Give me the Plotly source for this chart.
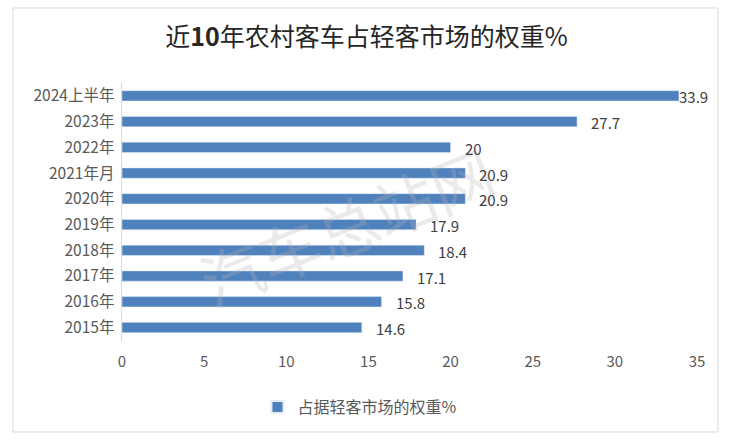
import plotly.graph_objects as go

categories = ["2024上半年", "2023年", "2022年", "2021年月", "2020年", "2019年", "2018年", "2017年", "2016年", "2015年"]
values = [33.9, 27.7, 20, 20.9, 20.9, 17.9, 18.4, 17.1, 15.8, 14.6]
value_labels = ["33.9", "27.7", "20", "20.9", "20.9", "17.9", "18.4", "17.1", "15.8", "14.6"]
series_name = "占据轻客市场的权重%"
x_ticks = [0, 5, 10, 15, 20, 25, 30, 35]

font_family = "Noto Sans CJK SC, Noto Sans, sans-serif"
x_max = 35

fig = go.Figure()
fig.add_trace(go.Bar(
    y=categories,
    x=values,
    orientation="h",
    name=series_name,
    marker=dict(color="#4F81BD"),
    width=0.4,
    showlegend=True,
))

label_annotations = []
for cat, v, lab in zip(categories, values, value_labels):
    if v > 0.95 * x_max:
        # Excel pulls labels that would overflow back inside the plot edge
        label_annotations.append(dict(
            x=x_max, y=cat, xref="x", yref="y", text=lab, showarrow=False,
            xanchor="right", xshift=13, yshift=-1,
            font=dict(size=15, color="#404040", family=font_family)))
    else:
        label_annotations.append(dict(
            x=v, y=cat, xref="x", yref="y", text=lab, showarrow=False,
            xanchor="left", xshift=12, yshift=-1,
            font=dict(size=15, color="#404040", family=font_family)))

fig.update_layout(
    width=733,
    height=441,
    margin=dict(l=122, r=36, t=83, b=100, autoexpand=False),
    paper_bgcolor="white",
    plot_bgcolor="white",
    font=dict(family=font_family, color="#595959", size=15),
    title=dict(
        text="近<b>10</b>年农村客车占轻客市场的权重%",
        x=0.5, xanchor="center",
        y=0.915, yanchor="middle",
        font=dict(size=25, color="#262626", family=font_family),
    ),
    xaxis=dict(
        range=[0, x_max],
        tickvals=x_ticks,
        showgrid=False,
        zeroline=False,
        showline=False,
        ticks="",
        automargin=False,
        ticklabelstandoff=10,
        tickfont=dict(size=15, color="#595959"),
        fixedrange=True,
    ),
    yaxis=dict(
        categoryorder="array",
        categoryarray=categories[::-1],
        showgrid=False,
        showline=True,
        linecolor="#D9D9D9",
        linewidth=1,
        ticks="",
        ticksuffix=" ",
        automargin=False,
        tickfont=dict(size=15.5, color="#595959"),
        fixedrange=True,
    ),
    legend=dict(
        orientation="h",
        x=0.413, xanchor="center",
        y=-0.19, yanchor="top",
        font=dict(size=16, color="#595959"),
        itemsizing="constant",
        itemwidth=30,
    ),
    shapes=[
        dict(type="rect", xref="paper", yref="paper",
             x0=-0.1896, x1=1.0365, y0=-0.3527, y1=1.2907,
             line=dict(color="#D9D9D9", width=1), fillcolor="rgba(0,0,0,0)", layer="below"),
    ],
    annotations=[
        dict(text="汽车总站网", xref="paper", yref="paper", x=0.39, y=0.45,
             showarrow=False, textangle=-22,
             font=dict(size=62, color="rgba(180,180,180,0.28)", family=font_family)),
    ] + label_annotations,
)

fig.write_html("out.html", config={"displayModeBar": False},
               post_script="document.body.style.margin='0';document.body.style.overflow='hidden';")
